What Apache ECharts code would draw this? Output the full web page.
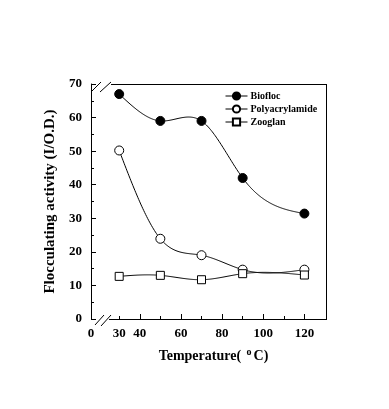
<!DOCTYPE html>
<html><head><meta charset="utf-8">
<script src="https://cdn.jsdelivr.net/npm/echarts@6/dist/echarts.min.js"></script>
<style>html,body{margin:0;padding:0;background:#fff}#c{width:389px;height:409px}</style>
</head><body><div id="c"></div>
<script>
const temps = [30, 50, 70, 90, 120];
const biofloc = [67, 59, 59, 42, 31.4];
const polyacrylamide = [50.2, 23.9, 19, 14.7, 14.7];
const zooglan = [12.7, 13, 11.7, 13.5, 13.1];
const xLabelValues = [30, 40, 60, 80, 100, 120];
const xMajorTicks = [40, 60, 80, 100, 120];
const xMinorTicks = [30, 50, 70, 90, 110];
const X_MIN = 16.3, X_MAX = 130.5;
const seriesNames = ['Biofloc', 'Polyacrylamide', 'Zooglan'];

const font = 'Liberation Serif';
const chart = echarts.init(document.getElementById('c'), null, {renderer: 'canvas'});
const pair = (arr) => temps.map((t, i) => [t, arr[i]]);

// natural cubic spline through pixel points (rendering of the curve)
function splinePath(pts) {
  const n = pts.length;
  const x = pts.map(p => p[0]), y = pts.map(p => p[1]);
  const h = [], a = [], l = [1], mu = [0], z = [0], c = new Array(n).fill(0);
  for (let i = 0; i < n - 1; i++) h.push(x[i + 1] - x[i]);
  for (let i = 1; i < n - 1; i++) a[i] = 3 / h[i] * (y[i + 1] - y[i]) - 3 / h[i - 1] * (y[i] - y[i - 1]);
  for (let i = 1; i < n - 1; i++) {
    l[i] = 2 * (x[i + 1] - x[i - 1]) - h[i - 1] * mu[i - 1];
    mu[i] = h[i] / l[i];
    z[i] = (a[i] - h[i - 1] * z[i - 1]) / l[i];
  }
  const b = [], d = [];
  for (let j = n - 2; j >= 0; j--) {
    c[j] = (j === 0 ? 0 : z[j]) - (j === 0 ? 0 : mu[j]) * c[j + 1];
    if (j === 0) c[j] = 0;
    b[j] = (y[j + 1] - y[j]) / h[j] - h[j] * (c[j + 1] + 2 * c[j]) / 3;
    d[j] = (c[j + 1] - c[j]) / (3 * h[j]);
  }
  const out = [];
  for (let j = 0; j < n - 1; j++) {
    const steps = Math.max(8, Math.ceil(h[j]));
    for (let s = 0; s <= steps; s++) {
      if (j > 0 && s === 0) continue;
      const t = h[j] * s / steps;
      out.push([x[j] + t, y[j] + b[j] * t + c[j] * t * t + d[j] * t * t * t]);
    }
  }
  return out;
}

function curve(name, values) {
  return {
    name: name + ' curve', type: 'custom', data: [[0]], silent: true, z: 2,
    renderItem: (params, api) => {
      const pts = temps.map((t, i) => api.coord([t, values[i]]));
      return {type: 'polyline', shape: {points: splinePath(pts)},
        style: {stroke: '#000', fill: null, lineWidth: 1}};
    }
  };
}
function mk(name, data, symbol, fill) {
  return {
    name, type: 'line', data: pair(data),
    symbol, symbolSize: symbol === 'rect' ? 8 : 9,
    lineStyle: {color: '#000', width: 1, opacity: 0},
    itemStyle: {color: fill, borderColor: '#000', borderWidth: 1},
    emphasis: {disabled: true}, z: 3
  };
}
chart.setOption({
  animation: false,
  grid: {left: 91, right: 63, top: 84, bottom: 90},
  legend: {
    orient: 'vertical', left: 220, top: 86, itemGap: 3, itemWidth: 22, itemHeight: 9,
    data: seriesNames,
    lineStyle: {color: '#000', width: 1, opacity: 1},
    textStyle: {fontFamily: font, fontWeight: 'bold', fontSize: 10, color: '#000', padding: [0,0,0,-2]}
  },
  xAxis: [{
    type: 'value', min: X_MIN, max: X_MAX,
    axisLine: {show: false},
    splitLine: {show: false},
    axisTick: {inside: true, length: 5, lineStyle: {color: '#000'}, customValues: xMajorTicks},
    axisLabel: {
      customValues: [X_MIN].concat(xLabelValues), margin: 8,
      formatter: v => (Math.abs(v - X_MIN) < 1e-6 ? '0' : String(v)),
      fontFamily: font, fontWeight: 'bold', fontSize: 13, color: '#000'
    },
    name: 'Temperature( {s|o}C)', nameLocation: 'middle', nameGap: 28,
    nameTextStyle: {fontFamily: font, fontWeight: 'bold', fontSize: 14, color: '#000', padding: [0,0,0,10],
      rich: {s: {fontFamily: font, fontWeight: 'bold', fontSize: 10, verticalAlign: 'top', padding: [0,2,8,2], color: '#000'}}}
  }, {
    type: 'value', min: X_MIN, max: X_MAX, position: 'bottom',
    axisLine: {show: false}, splitLine: {show: false},
    axisTick: {inside: true, length: 3, lineStyle: {color: '#000'}, customValues: xMinorTicks},
    axisLabel: {show: false}
  }],
  yAxis: {
    type: 'value', min: 0, max: 70, interval: 10,
    axisLine: {show: true, lineStyle: {color: '#000'}},
    splitLine: {show: false},
    axisTick: {inside: true, length: 5, lineStyle: {color: '#000'}},
    minorTick: {show: true, splitNumber: 2, length: 3, lineStyle: {color: '#000'}},
    axisLabel: {margin: 9, fontFamily: font, fontWeight: 'bold', fontSize: 13, color: '#000'},
    name: 'Flocculating activity (I/O.D.)', nameLocation: 'middle', nameGap: 32,
    nameTextStyle: {fontFamily: font, fontWeight: 'bold', fontSize: 15, color: '#000'}
  },
  series: [
    curve(seriesNames[0], biofloc),
    curve(seriesNames[1], polyacrylamide),
    curve(seriesNames[2], zooglan),
    mk(seriesNames[0], biofloc, 'circle', '#000'),
    mk(seriesNames[1], polyacrylamide, 'circle', '#fff'),
    mk(seriesNames[2], zooglan, 'rect', '#fff')
  ]
});

// frame with axis-break marks (decoration only)
const tl = chart.convertToPixel({xAxisIndex: 0, yAxisIndex: 0}, [X_MIN, 70]);
const br = chart.convertToPixel({xAxisIndex: 0, yAxisIndex: 0}, [X_MAX, 0]);
const L = tl[0], T = tl[1], R = br[0], B = br[1];
const ls = {stroke: '#000', lineWidth: 1};
const seg = (x1,y1,x2,y2) => ({type: 'line', shape: {x1,y1,x2,y2}, style: ls, silent: true, z: 10});
chart.setOption({graphic: [
  seg(L, B + 0.5, L + 5, B + 0.5),
  seg(L + 18, B + 0.5, R, B + 0.5),
  seg(L + 20, T + 0.5, R, T + 0.5),
  seg(R + 0.5, T, R + 0.5, B + 1),
  seg(L + 4, B + 6, L + 13, B - 4),
  seg(L + 10, B + 7, L + 20, B - 4),
  seg(L, T + 8, L + 10, T - 2),
  seg(L + 9, T + 8, L + 20, T - 2)
]});
</script></body></html>
